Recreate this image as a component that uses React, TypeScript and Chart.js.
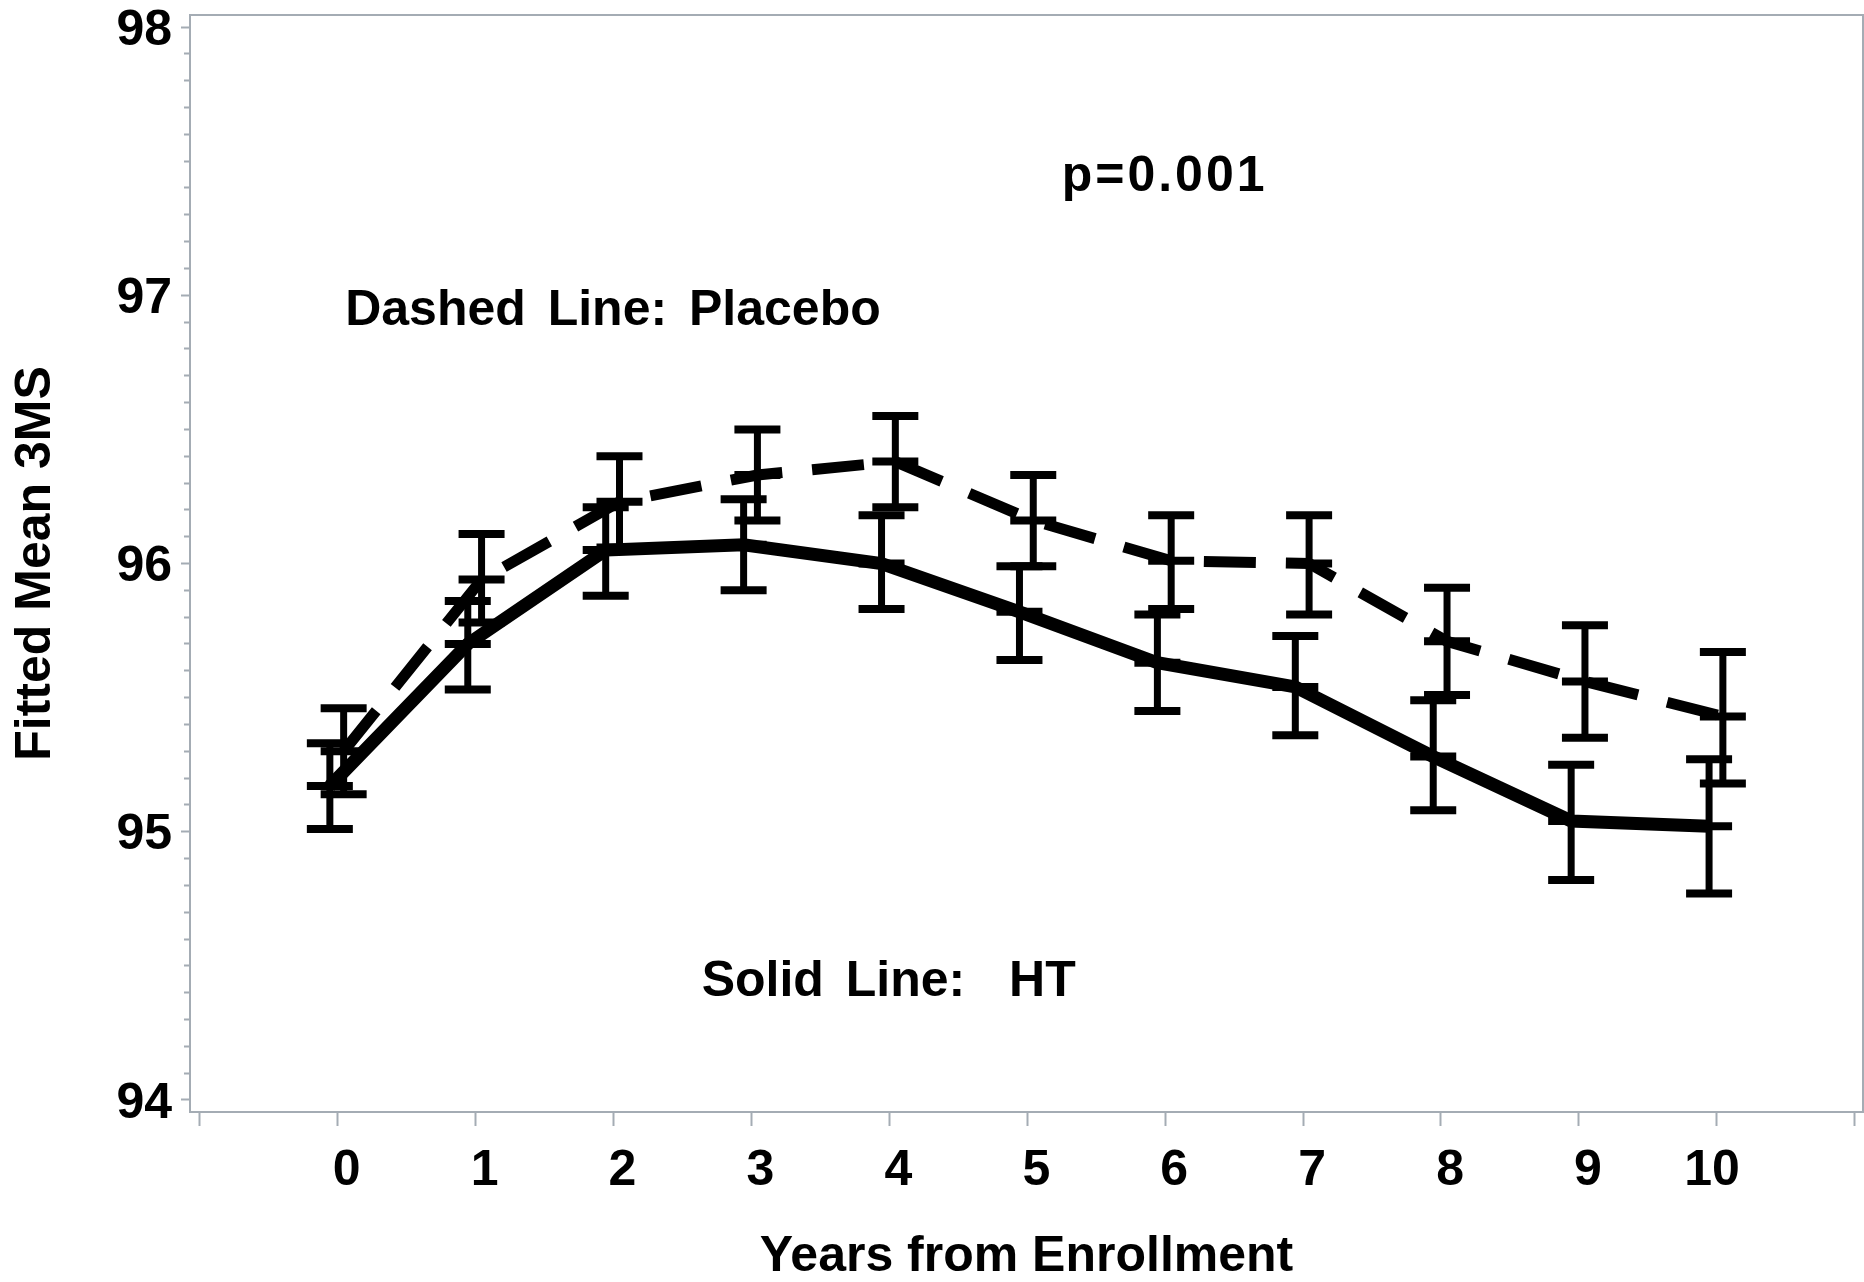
import React, { useEffect, useRef } from 'react';
import { Chart, registerables } from 'chart.js';

Chart.register(...registerables);

// ---------- data ----------
const years = [0, 1, 2, 3, 4, 5, 6, 7, 8, 9, 10];

const htMean = [95.17, 95.70, 96.05, 96.07, 96.00, 95.82, 95.63, 95.54, 95.28, 95.04, 95.02];
const htLow = [95.01, 95.53, 95.88, 95.90, 95.83, 95.64, 95.45, 95.36, 95.08, 94.82, 94.77];
const htHigh = [95.33, 95.86, 96.21, 96.24, 96.18, 95.99, 95.81, 95.73, 95.49, 95.25, 95.27];

const placeboMean = [95.30, 95.94, 96.23, 96.33, 96.38, 96.16, 96.01, 96.00, 95.71, 95.56, 95.43];
const placeboLow = [95.14, 95.78, 96.06, 96.16, 96.21, 95.99, 95.83, 95.81, 95.51, 95.35, 95.18];
const placeboHigh = [95.46, 96.11, 96.40, 96.50, 96.55, 96.33, 96.18, 96.18, 95.91, 95.77, 95.67];

const xTickValues = [-1, 0, 1, 2, 3, 4, 5, 6, 7, 8, 9, 10, 11];
const xTickLabels = ['0', '1', '2', '3', '4', '5', '6', '7', '8', '9', '10'];
const yMajorTicks = [94, 95, 96, 97, 98];

const notes = [
  { text: 'p=0.001', x: 5.25, y: 97.44, letterSpacing: '3px' },
  { text: 'Dashed Line: Placebo', x: 0.055, y: 96.94, letterSpacing: '0px' },
  { text: 'Solid Line:  HT', x: 2.64, y: 94.44, letterSpacing: '0px' },
];

// ---------- style ----------
const FONT = '"Liberation Sans", Arial, Helvetica, sans-serif';
const GRAY = '#a4acb4';
const BLACK = '#000000';
const HT_OFF = -0.056;
const PL_OFF = 0.044;

const pts = (vals: number[], off: number) => years.map((x, i) => ({ x: x + off, y: vals[i] }));
const caps = (lo: number[], mid: number[], hi: number[], off: number) => [
  ...pts(lo, off),
  ...pts(mid, off),
  ...pts(hi, off),
];
const stems = (lo: number[], hi: number[], off: number) =>
  years.map((x, i) => ({ x: x + off, y: [lo[i], hi[i]] }));

const yTickValues: number[] = [];
for (let k = 940; k <= 980; k++) yTickValues.push(k / 10);

const isMajorY = (v: number) => yMajorTicks.some((m) => Math.abs(m - v) < 1e-6);

const frameAndNotes = {
  id: 'frameAndNotes',
  afterDraw(chart: any) {
    const { ctx, chartArea, scales } = chart;
    const { left, top, right, bottom } = chartArea;
    ctx.save();
    ctx.strokeStyle = GRAY;
    ctx.lineWidth = 2;
    ctx.beginPath();
    ctx.moveTo(left, top);
    ctx.lineTo(right, top);
    ctx.lineTo(right, bottom);
    ctx.stroke();
    ctx.fillStyle = BLACK;
    ctx.font = `bold 50px ${FONT}`;
    ctx.textAlign = 'left';
    ctx.textBaseline = 'middle';
    notes.forEach((n) => {
      const c: any = ctx;
      if ('wordSpacing' in c) c.wordSpacing = '8px';
      if ('letterSpacing' in c) c.letterSpacing = n.letterSpacing;
      ctx.fillText(n.text, scales.x.getPixelForValue(n.x), scales.y.getPixelForValue(n.y));
    });
    ctx.restore();
  },
};

export default function App() {
  const ref = useRef<HTMLCanvasElement | null>(null);

  useEffect(() => {
    document.body.style.margin = '0';
    document.body.style.overflow = 'hidden';
    const canvas = ref.current;
    if (!canvas) return;

    const capStyle = {
      pointStyle: 'line',
      pointRadius: 23,
      pointHoverRadius: 23,
      pointBorderWidth: 8,
      pointHoverBorderWidth: 8,
      pointBorderColor: BLACK,
      pointBackgroundColor: BLACK,
      borderColor: BLACK,
      showLine: false,
    };

    const chart = new Chart(canvas, {
      type: 'scatter',
      data: {
        datasets: [
          {
            type: 'line',
            label: 'HT',
            data: pts(htMean, HT_OFF),
            borderColor: BLACK,
            borderWidth: 13,
            pointRadius: 0,
            tension: 0,
            fill: false,
            borderJoinStyle: 'miter',
          },
          {
            type: 'line',
            label: 'Placebo',
            data: pts(placeboMean, PL_OFF),
            borderColor: BLACK,
            borderWidth: 11,
            borderDash: [52, 30],
            pointRadius: 0,
            tension: 0,
            fill: false,
            borderJoinStyle: 'miter',
          },
          {
            type: 'bar',
            label: 'HT CI',
            data: stems(htLow, htHigh, HT_OFF) as any,
            backgroundColor: BLACK,
            borderWidth: 0,
            grouped: false,
            maxBarThickness: 7,
          },
          {
            type: 'bar',
            label: 'Placebo CI',
            data: stems(placeboLow, placeboHigh, PL_OFF) as any,
            backgroundColor: BLACK,
            borderWidth: 0,
            grouped: false,
            maxBarThickness: 7,
          },
          {
            type: 'scatter',
            label: 'HT caps',
            data: caps(htLow, htMean, htHigh, HT_OFF),
            ...capStyle,
          } as any,
          {
            type: 'scatter',
            label: 'Placebo caps',
            data: caps(placeboLow, placeboMean, placeboHigh, PL_OFF),
            ...capStyle,
          } as any,
        ],
      },
      options: {
        animation: false,
        responsive: false,
        devicePixelRatio: 1,
        events: [],
        layout: { autoPadding: false, padding: { top: 15, right: 1, bottom: 0, left: 0 } },
        plugins: {
          legend: { display: false },
          tooltip: { enabled: false },
          title: { display: false },
        },
        scales: {
          x: {
            type: 'linear',
            min: -1.07,
            max: 11.06,
            offset: false,
            afterBuildTicks: (s: any) => {
              s.ticks = xTickValues.map((v) => ({ value: v }));
            },
            afterFit: (s: any) => {
              s.height = 170;
              s.paddingLeft = 0;
              s.paddingRight = 0;
            },
            ticks: {
              autoSkip: false,
              maxRotation: 0,
              minRotation: 0,
              align: 'end',
              labelOffset: 23,
              padding: 15,
              color: BLACK,
              font: { family: FONT, size: 50, weight: 'bold' },
              callback: (v: any) => {
                const idx = years.indexOf(Number(v));
                return idx >= 0 ? xTickLabels[idx] : '';
              },
            },
            grid: {
              offset: false,
              drawOnChartArea: false,
              drawTicks: true,
              tickLength: 14,
              tickColor: GRAY,
              tickWidth: 2,
            },
            border: { display: true, color: GRAY, width: 2 },
            title: {
              display: true,
              text: 'Years from Enrollment',
              color: BLACK,
              font: { family: FONT, size: 50, weight: 'bold', lineHeight: 1 },
              padding: { top: 0, bottom: 0 },
            },
          },
          y: {
            type: 'linear',
            min: 93.955,
            max: 98.045,
            beginAtZero: false,
            afterBuildTicks: (s: any) => {
              s.ticks = yTickValues.map((v) => ({ value: v }));
            },
            afterFit: (s: any) => {
              s.width = 190;
              s.paddingTop = 0;
              s.paddingBottom = 0;
            },
            ticks: {
              autoSkip: false,
              padding: 9,
              labelOffset: 4,
              color: BLACK,
              font: { family: FONT, size: 50, weight: 'bold' },
              callback: (v: any) => (isMajorY(Number(v)) ? String(Math.round(Number(v))) : ''),
            },
            grid: {
              drawOnChartArea: false,
              drawTicks: true,
              tickLength: 9,
              tickColor: GRAY,
              tickWidth: 2,
              tickBorderDash: (ctx: any) =>
                ctx.tick && isMajorY(ctx.tick.value) ? [] : [0, 3, 7, 100],
            },
            border: { display: true, color: GRAY, width: 2 },
            title: {
              display: true,
              text: 'Fitted Mean 3MS',
              color: BLACK,
              font: { family: FONT, size: 50, weight: 'bold', lineHeight: 1 },
              padding: { top: 11, bottom: 0 },
            },
          },
        },
      } as any,
      plugins: [frameAndNotes],
    });

    return () => chart.destroy();
  }, []);

  return (
    <div style={{ width: 1864, height: 1282, background: '#ffffff' }}>
      <canvas ref={ref} width={1864} height={1282} style={{ display: 'block', width: 1864, height: 1282 }} />
    </div>
  );
}
